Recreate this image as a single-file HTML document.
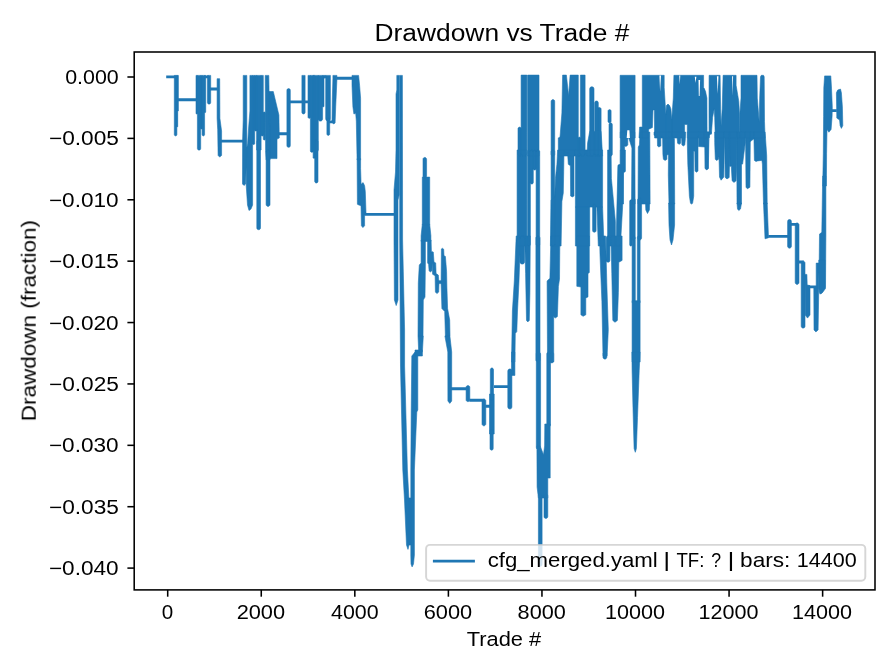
<!DOCTYPE html>
<html><head><meta charset="utf-8"><title>Drawdown vs Trade #</title>
<style>
html,body{margin:0;padding:0;background:#fff;}
body{width:896px;height:672px;overflow:hidden;position:relative;font-family:"Liberation Sans",sans-serif;}
svg text{font-family:"Liberation Sans",sans-serif;fill:#000;}
</style></head><body>
<svg width="896" height="672" viewBox="0 0 896 672" style="position:absolute;left:0;top:0">
<rect x="0" y="0" width="896" height="672" fill="#ffffff"/>
<defs><clipPath id="axclip"><rect x="134.2" y="52.0" width="740.8" height="537.9"/></clipPath></defs>
<g clip-path="url(#axclip)"><path d="M174.3,75.4L176.9,75.4L176.9,134.6L176.8,135.1L176.5,135.5L176.1,135.8L175.6,135.9L175.1,135.8L174.7,135.5L174.4,135.1L174.3,134.6Z M176.9,75.4L177.7,75.4L177.7,126.4L177.7,126.6L177.6,126.7L177.4,126.8L177.3,126.9L177.1,126.8L177.0,126.7L176.9,126.6L176.9,126.4Z M177.7,75.4L178.3,75.4L178.3,110.9L178.3,111.0L178.2,111.1L178.1,111.1L178.0,111.1L177.9,111.1L177.8,111.1L177.7,111.0L177.7,110.9Z M196.0,75.4L197.4,75.4L197.4,113.3L197.4,113.6L197.2,113.8L197.0,113.9L196.7,114.0L196.4,113.9L196.2,113.8L196.1,113.6L196.0,113.3Z M197.4,75.4L200.7,75.4L200.7,148.5L200.6,149.1L200.2,149.7L199.7,150.0L199.1,150.1L198.4,150.0L197.9,149.7L197.6,149.1L197.4,148.5Z M200.7,75.4L202.1,75.4L202.1,128.3L202.1,128.6L201.9,128.8L201.7,128.9L201.4,129.0L201.2,128.9L200.9,128.8L200.8,128.6L200.7,128.3Z M202.1,75.4L204.6,75.4L204.6,134.6L204.5,135.1L204.2,135.5L203.8,135.8L203.4,135.9L202.9,135.8L202.5,135.5L202.2,135.1L202.1,134.6Z M204.6,75.4L205.7,75.4L205.7,112.0L205.7,112.2L205.5,112.4L205.4,112.5L205.1,112.6L204.9,112.5L204.7,112.4L204.6,112.2L204.6,112.0Z M207.4,75.4L210.7,75.4L210.7,102.5L210.6,103.1L210.2,103.7L209.7,104.0L209.1,104.1L208.4,104.0L207.9,103.7L207.6,103.1L207.4,102.5Z M217.1,78.7L219.7,78.7L219.9,118.3L221.6,131.1L221.6,155.4L219.7,157.1L218.1,155.4L217.7,129.7L217.1,118.3Z M243.2,75.4L246.8,75.4L246.8,150.0L245.6,184.0L244.0,185.5L242.5,184.0L242.6,140.0L243.2,120.0Z M249.9,75.4L252.6,75.4L252.6,205.0L251.0,209.0L249.0,210.5L247.5,205.0L246.2,185.0L246.2,150.0L247.6,144.0L248.6,128.0L249.9,111.0Z M252.6,75.4L254.7,75.4L254.7,143.4L254.6,143.9L254.4,144.2L254.1,144.4L253.6,144.5L253.2,144.4L252.9,144.2L252.7,143.9L252.6,143.4Z M254.7,75.4L256.9,75.4L256.9,129.9L256.8,130.3L256.6,130.7L256.2,130.9L255.8,131.0L255.4,130.9L255.0,130.7L254.8,130.3L254.7,129.9Z M256.6,75.4L261.1,75.4L261.1,150.0L256.6,150.0Z M256.8,141.8L256.9,141.1L257.3,140.5L257.9,140.1L258.6,140.0L259.4,140.1L260.0,140.5L260.4,141.1L260.5,141.8L260.5,227.8L260.4,228.6L260.0,229.2L259.4,229.6L258.6,229.7L257.9,229.6L257.3,229.2L256.9,228.6L256.8,227.8Z M261.1,75.4L263.3,75.4L263.3,134.9L263.2,135.3L263.0,135.7L262.6,135.9L262.2,136.0L261.8,135.9L261.4,135.7L261.2,135.3L261.1,134.9Z M263.3,113.0L263.4,112.6L263.6,112.3L263.9,112.1L264.3,112.0L264.7,112.1L265.0,112.3L265.2,112.6L265.3,113.0L265.3,139.0L265.2,139.4L265.0,139.7L264.7,139.9L264.3,140.0L263.9,139.9L263.6,139.7L263.4,139.4L263.3,139.0Z M265.2,75.4L268.8,75.4L270.0,150.0L270.0,160.0L266.1,160.0L265.6,150.0Z M266.1,151.9L266.2,151.2L266.7,150.6L267.3,150.1L268.1,150.0L268.8,150.1L269.4,150.6L269.9,151.2L270.0,151.9L270.0,204.5L269.9,205.2L269.4,205.8L268.8,206.3L268.1,206.4L267.3,206.3L266.7,205.8L266.2,205.2L266.1,204.5Z M269.0,91.5L273.3,91.5L278.9,115.0L279.3,138.0L277.0,139.0L277.0,158.6L270.0,158.6Z M286.9,90.3L287.0,89.6L287.4,89.1L287.9,88.7L288.6,88.6L289.3,88.7L289.8,89.1L290.2,89.6L290.3,90.3L290.3,145.6L290.2,146.3L289.8,146.8L289.3,147.2L288.6,147.3L287.9,147.2L287.4,146.8L287.0,146.3L286.9,145.6Z M301.9,75.4L305.1,75.4L305.1,112.4L305.0,113.0L304.6,113.5L304.1,113.9L303.5,114.0L302.9,113.9L302.4,113.5L302.0,113.0L301.9,112.4Z M308.0,75.4L310.4,75.4L310.4,117.1L310.3,117.5L310.1,117.9L309.7,118.2L309.2,118.3L308.7,118.2L308.4,117.9L308.1,117.5L308.0,117.1Z M310.4,75.4L313.3,75.4L313.3,150.9L313.2,151.4L312.9,151.9L312.4,152.2L311.9,152.3L311.3,152.2L310.8,151.9L310.5,151.4L310.4,150.9Z M313.3,75.4L314.7,75.4L314.7,157.6L314.7,157.8L314.5,158.1L314.3,158.2L314.0,158.3L313.7,158.2L313.5,158.1L313.3,157.8L313.3,157.6Z M318.3,75.4L322.6,75.4L322.6,119.0L322.4,119.8L321.9,120.5L321.2,121.0L320.4,121.1L319.6,121.0L318.9,120.5L318.4,119.8L318.3,119.0Z M322.6,75.4L324.0,75.4L324.0,106.1L323.9,106.4L323.8,106.6L323.6,106.8L323.3,106.9L323.0,106.8L322.8,106.6L322.6,106.4L322.6,106.1Z M324.0,75.4L325.7,75.4L325.7,77.4L325.6,77.8L325.5,78.0L325.2,78.2L324.9,78.3L324.5,78.2L324.3,78.0L324.1,77.8L324.0,77.4Z M325.7,75.4L330.4,75.4L330.4,118.8L330.2,119.7L329.7,120.5L329.0,121.0L328.1,121.1L327.2,121.0L326.4,120.5L325.9,119.7L325.7,118.8Z M326.9,119.7L327.0,119.2L327.3,118.7L327.7,118.4L328.3,118.3L328.8,118.4L329.3,118.7L329.6,119.2L329.7,119.7L329.7,134.0L329.6,134.5L329.3,135.0L328.8,135.3L328.3,135.4L327.7,135.3L327.3,135.0L327.0,134.5L326.9,134.0Z M313.3,75.4L318.3,75.4L318.3,150.0L314.7,158.0L313.3,158.0Z M314.7,141.7L314.8,141.0L315.2,140.5L315.7,140.1L316.4,140.0L317.0,140.1L317.5,140.5L317.9,141.0L318.0,141.7L318.0,181.3L317.9,182.0L317.5,182.5L317.0,182.9L316.4,183.0L315.7,182.9L315.2,182.5L314.8,182.0L314.7,181.3Z M332.9,75.4L336.9,75.4L336.9,79.7L335.7,106.9L335.1,122.9L333.6,124.0L332.0,122.3L332.3,99.7L332.9,78.3Z M352.0,75.4L358.6,75.4L359.6,85.4L360.6,98.3L360.6,160.0L357.1,160.0L356.3,121.1L355.7,113.3L353.9,114.0L352.9,106.9L352.0,85.4Z M357.1,158.6L360.6,158.6L360.6,168.6L361.1,184.3L363.1,182.6L364.6,185.7L365.3,191.4L366.0,212.9L364.6,215.7L364.6,225.7L362.9,227.6L361.4,225.7L361.0,205.7L358.9,205.0L357.4,204.3Z M396.8,75.4L399.2,75.4L399.2,195.0L398.0,200.0L398.0,300.0L396.2,305.6L394.4,300.0L394.0,240.0L394.0,190.0L395.5,172.0L396.0,150.0L396.0,94.0L396.8,90.0Z M399.7,75.4L402.4,75.4L402.6,240.0L404.6,330.0L404.6,366.0L405.0,380.0L407.4,470.0L409.0,500.0L409.0,545.0L408.0,549.4L406.5,545.0L404.5,500.0L402.8,470.0L400.5,366.0L399.7,240.0Z M411.8,356.0L415.0,352.0L417.8,356.0L417.8,410.0L416.8,412.0L414.4,470.0L414.4,555.0L413.5,564.0L412.1,566.9L411.0,564.0L410.8,555.0L410.8,470.0L411.2,412.0Z M405.5,498.0L411.0,498.0L411.0,545.0L409.0,545.0L407.0,520.0Z M415.0,350.0L422.4,350.0L422.4,356.0L415.0,356.0Z M418.0,336.0L423.3,336.0L422.4,352.0L418.7,352.0Z M423.0,159.2L423.1,158.5L423.5,158.0L424.1,157.6L424.8,157.4L425.5,157.6L426.0,158.0L426.4,158.5L426.6,159.2L426.6,176.1L426.4,176.8L426.0,177.3L425.5,177.7L424.8,177.9L424.1,177.7L423.5,177.3L423.1,176.8L423.0,176.1Z M422.3,177.1L429.7,177.1L429.7,225.0L422.3,225.0Z M422.3,224.3L429.7,224.3L430.9,235.7L430.9,241.4L421.1,241.4L421.1,235.7Z M421.1,240.0L425.4,240.0L425.4,262.9L425.0,297.1L423.3,300.0L423.0,336.0L418.0,336.0L418.3,282.9L419.3,265.0L421.1,262.9Z M427.6,240.0L431.1,240.0L431.4,251.4L433.3,252.1L434.0,262.1L435.7,262.9L436.1,273.6L438.3,275.0L439.0,282.9L438.7,292.1L436.9,293.6L435.4,292.1L435.1,275.7L432.6,274.3L432.1,262.9L431.9,270.7L430.4,272.1L429.1,270.7L428.6,264.3L427.6,262.9Z M438.3,280.7L441.4,280.7L441.4,283.6L438.3,283.6Z M441.4,248.9L442.6,248.3L443.7,249.3L444.0,255.7L445.4,256.4L446.6,271.4L446.9,287.1L447.6,308.6L449.7,320.0L450.0,336.0L445.4,336.0L444.7,311.4L441.9,308.6L441.1,282.9Z M444.9,336.0L449.9,336.0L451.7,352.0L451.7,401.0L449.8,403.4L447.9,401.0L447.8,352.0Z M466.1,387.5L466.2,386.7L466.6,386.1L467.2,385.7L468.0,385.6L468.7,385.7L469.3,386.1L469.7,386.7L469.8,387.5L469.8,399.8L469.7,400.5L469.3,401.1L468.7,401.5L468.0,401.6L467.2,401.5L466.6,401.1L466.2,400.5L466.1,399.8Z M482.0,400.9L482.1,400.2L482.6,399.6L483.2,399.1L483.9,399.0L484.6,399.1L485.2,399.6L485.7,400.2L485.8,400.9L485.8,423.9L485.7,424.6L485.2,425.2L484.6,425.7L483.9,425.8L483.2,425.7L482.6,425.2L482.1,424.6L482.0,423.9Z M490.3,369.6L490.4,369.0L490.8,368.5L491.3,368.1L491.9,368.0L492.5,368.1L493.0,368.5L493.4,369.0L493.5,369.6L493.5,400.0L490.3,400.0Z M489.5,394.0L494.2,394.0L494.2,434.0L489.5,434.0Z M490.0,430.0L493.2,430.0L493.2,448.6L493.1,449.2L492.7,449.7L492.2,450.1L491.6,450.2L491.0,450.1L490.5,449.7L490.1,449.2L490.0,448.6Z M507.8,370.9L508.0,370.2L508.4,369.5L509.1,369.1L509.9,368.9L510.6,369.1L511.3,369.5L511.7,370.2L511.9,370.9L511.9,407.0L511.7,407.7L511.3,408.4L510.6,408.8L509.9,409.0L509.1,408.8L508.4,408.4L508.0,407.7L507.8,407.0Z M511.5,352.0L514.9,352.0L514.9,375.4L511.5,375.4Z M516.2,236.0L519.9,236.0L519.9,254.8L519.0,281.0L517.5,311.0L516.8,331.6L515.3,333.5L514.9,362.0L511.5,362.0L512.4,311.0L514.3,281.0Z M519.9,238.3L520.1,237.4L520.6,236.7L521.4,236.2L522.3,236.0L523.2,236.2L523.9,236.7L524.4,237.4L524.6,238.3L524.6,261.8L524.4,262.7L523.9,263.4L523.2,263.9L522.3,264.1L521.4,263.9L520.6,263.4L520.1,262.7L519.9,261.8Z M535.9,238.1L536.0,237.3L536.5,236.6L537.2,236.2L537.9,236.0L538.7,236.2L539.4,236.6L539.8,237.3L540.0,238.1L540.0,359.9L539.8,360.7L539.4,361.4L538.7,361.9L537.9,362.0L537.2,361.9L536.5,361.4L536.0,360.7L535.9,359.9Z M606.2,237.9L606.3,237.2L606.7,236.5L607.4,236.1L608.1,236.0L608.8,236.1L609.4,236.5L609.8,237.2L609.9,237.9L609.9,260.4L609.8,261.1L609.4,261.7L608.8,262.1L608.1,262.3L607.4,262.1L606.7,261.7L606.3,261.1L606.2,260.4Z M632.1,237.6L632.2,237.0L632.5,236.5L633.1,236.1L633.7,236.0L634.3,236.1L634.8,236.5L635.1,237.0L635.3,237.6L635.3,301.9L635.1,302.5L634.8,303.0L634.3,303.4L633.7,303.5L633.1,303.4L632.5,303.0L632.2,302.5L632.1,301.9Z M637.3,237.4L637.4,236.9L637.7,236.4L638.2,236.1L638.7,236.0L639.3,236.1L639.7,236.4L640.0,236.9L640.1,237.4L640.1,302.1L640.0,302.6L639.7,303.1L639.3,303.4L638.7,303.5L638.2,303.4L637.7,303.1L637.4,302.6L637.3,302.1Z M632.1,300.7L640.1,300.7L640.1,362.0L632.1,362.0Z M524.6,236.0L530.3,236.0L529.9,292.3L529.3,320.4L527.8,321.9L526.5,320.4L525.6,273.5Z M550.9,236.0L559.9,236.0L559.5,279.1L558.4,286.6L557.4,316.6L555.2,318.1L553.7,316.6L553.7,362.0L547.5,362.0L547.1,281.0L549.9,278.2Z M576.8,236.0L589.3,236.0L589.3,272.6L588.0,273.5L588.0,296.9L585.8,297.9L585.8,314.8L583.1,316.3L580.9,314.8L580.9,287.0L576.8,286.3Z M599.6,236.0L605.6,236.0L606.8,282.9L608.3,329.8L607.1,356.0L604.9,358.3L603.0,356.0L601.9,301.6L600.0,254.8Z M610.9,236.0L622.1,236.0L622.1,260.4L618.8,262.3L618.4,292.3L617.4,320.4L615.0,322.3L612.8,320.4L611.8,273.5Z M536.3,354.2L536.4,353.3L536.9,352.6L537.6,352.2L538.4,352.0L539.2,352.2L539.9,352.6L540.4,353.3L540.6,354.2L540.6,447.3L540.4,448.2L539.9,448.9L539.2,449.3L538.4,449.5L537.6,449.3L536.9,448.9L536.4,448.2L536.3,447.3Z M546.8,353.9L546.9,353.2L547.3,352.5L547.9,352.1L548.6,352.0L549.3,352.1L550.0,352.5L550.4,353.2L550.5,353.9L550.5,425.1L550.4,425.8L550.0,426.5L549.3,426.9L548.6,427.0L547.9,426.9L547.3,426.5L546.9,425.8L546.8,425.1Z M549.9,353.9L550.1,353.2L550.5,352.5L551.1,352.1L551.8,352.0L552.5,352.1L553.1,352.5L553.5,353.2L553.7,353.9L553.7,361.0L553.5,361.7L553.1,362.3L552.5,362.7L551.8,362.9L551.1,362.7L550.5,362.3L550.1,361.7L549.9,361.0Z M603.0,353.9L603.1,353.2L603.6,352.5L604.2,352.1L604.9,352.0L605.6,352.1L606.2,352.5L606.6,353.2L606.8,353.9L606.8,357.3L606.6,358.0L606.2,358.6L605.6,359.0L604.9,359.1L604.2,359.0L603.6,358.6L603.1,358.0L603.0,357.3Z M631.9,352.0L640.1,352.0L639.2,370.8L637.5,417.6L636.4,448.6L635.3,452.3L634.1,448.6L633.0,408.3L632.1,370.8Z M544.8,424.0L550.2,424.0L550.2,478.0L547.8,478.0L547.8,498.0L538.4,498.0L537.1,487.0L536.9,446.0L540.2,446.0L543.5,454.7L544.6,446.0Z M538.4,495.9L538.5,495.1L538.9,494.5L539.5,494.1L540.2,494.0L541.0,494.1L541.6,494.5L542.0,495.1L542.1,495.9L542.1,564.4L542.0,565.2L541.6,565.8L541.0,566.2L540.2,566.3L539.5,566.2L538.9,565.8L538.5,565.2L538.4,564.4Z M544.0,495.9L544.1,495.2L544.5,494.5L545.2,494.1L545.9,494.0L546.6,494.1L547.2,494.5L547.6,495.2L547.8,495.9L547.8,516.5L547.6,517.2L547.2,517.9L546.6,518.3L545.9,518.4L545.2,518.3L544.5,517.9L544.1,517.2L544.0,516.5Z M518.0,128.7L518.1,128.1L518.5,127.6L519.0,127.3L519.6,127.1L520.2,127.3L520.7,127.6L521.0,128.1L521.1,128.7L521.1,154.4L521.0,155.0L520.7,155.5L520.2,155.9L519.6,156.0L519.0,155.9L518.5,155.5L518.1,155.0L518.0,154.4Z M521.1,75.1L526.9,75.1L526.9,153.1L526.6,154.2L526.0,155.2L525.1,155.8L524.0,156.0L522.9,155.8L522.0,155.2L521.4,154.2L521.1,153.1Z M527.6,75.1L539.0,75.1L539.0,156.0L527.6,156.0Z M551.1,101.4L551.3,100.7L551.7,100.1L552.2,99.7L552.9,99.6L553.6,99.7L554.2,100.1L554.6,100.7L554.7,101.4L554.7,154.2L554.6,154.9L554.2,155.5L553.6,155.9L552.9,156.0L552.2,155.9L551.7,155.5L551.3,154.9L551.1,154.2Z M578.3,138.2L578.4,137.8L578.6,137.5L578.9,137.2L579.4,137.1L579.8,137.2L580.1,137.5L580.3,137.8L580.4,138.2L580.4,154.9L580.3,155.3L580.1,155.7L579.8,155.9L579.4,156.0L578.9,155.9L578.6,155.7L578.4,155.3L578.3,154.9Z M580.4,75.1L585.1,75.1L585.1,153.6L585.0,154.5L584.5,155.3L583.7,155.8L582.8,156.0L581.9,155.8L581.1,155.3L580.6,154.5L580.4,153.6Z M589.7,88.9L589.9,88.0L590.3,87.3L591.0,86.9L591.9,86.7L592.7,86.9L593.4,87.3L593.8,88.0L594.0,88.9L594.0,153.9L593.8,154.7L593.4,155.4L592.7,155.8L591.9,156.0L591.0,155.8L590.3,155.4L589.9,154.7L589.7,153.9Z M594.7,102.8L594.9,102.1L595.2,101.5L595.8,101.1L596.5,101.0L597.2,101.1L597.8,101.5L598.1,102.1L598.3,102.8L598.3,154.2L598.1,154.9L597.8,155.5L597.2,155.9L596.5,156.0L595.8,155.9L595.2,155.5L594.9,154.9L594.7,154.2Z M597.6,109.2L597.7,108.5L598.1,108.0L598.7,107.6L599.4,107.4L600.0,107.6L600.6,108.0L601.0,108.5L601.1,109.2L601.1,154.2L601.0,154.9L600.6,155.5L600.0,155.9L599.4,156.0L598.7,155.9L598.1,155.5L597.7,154.9L597.6,154.2Z M608.0,111.1L608.1,110.5L608.5,110.0L609.0,109.7L609.6,109.6L610.2,109.7L610.7,110.0L611.0,110.5L611.1,111.1L611.1,121.3L611.0,121.9L610.7,122.4L610.2,122.7L609.6,122.9L609.0,122.7L608.5,122.4L608.1,121.9L608.0,121.3Z M609.0,124.5L609.1,123.9L609.5,123.3L610.0,123.0L610.6,122.9L611.3,123.0L611.8,123.3L612.2,123.9L612.3,124.5L612.3,154.4L612.2,155.0L611.8,155.5L611.3,155.9L610.6,156.0L610.0,155.9L609.5,155.5L609.1,155.0L609.0,154.4Z M562.6,75.1L566.4,75.1L568.6,95.7L570.1,75.1L578.3,75.1L578.3,156.0L558.3,156.0L558.3,137.9L560.0,137.1L561.9,112.9Z M589.7,131.4L601.1,131.4L602.6,156.0L586.9,156.0L587.6,142.9Z M517.1,150.0L526.9,150.0L526.9,246.0L517.1,246.0Z M527.6,151.4L527.7,150.9L528.0,150.4L528.5,150.1L529.0,150.0L529.5,150.1L530.0,150.4L530.3,150.9L530.4,151.4L530.4,244.6L530.3,245.1L530.0,245.6L529.5,245.9L529.0,246.0L528.5,245.9L528.0,245.6L527.7,245.1L527.6,244.6Z M530.4,151.4L530.5,150.9L530.8,150.4L531.3,150.1L531.9,150.0L532.4,150.1L532.9,150.4L533.2,150.9L533.3,151.4L533.3,182.6L533.2,183.1L532.9,183.6L532.4,183.9L531.9,184.0L531.3,183.9L530.8,183.6L530.5,183.1L530.4,182.6Z M533.3,151.4L533.4,150.9L533.7,150.4L534.2,150.1L534.7,150.0L535.3,150.1L535.7,150.4L536.0,150.9L536.1,151.4L536.1,168.6L536.0,169.1L535.7,169.6L535.3,169.9L534.7,170.0L534.2,169.9L533.7,169.6L533.4,169.1L533.3,168.6Z M536.1,151.8L536.3,151.1L536.7,150.5L537.2,150.1L537.9,150.0L538.6,150.1L539.2,150.5L539.6,151.1L539.7,151.8L539.7,244.2L539.6,244.9L539.2,245.5L538.6,245.9L537.9,246.0L537.2,245.9L536.7,245.5L536.3,244.9L536.1,244.2Z M551.1,151.8L551.3,151.1L551.7,150.5L552.2,150.1L552.9,150.0L553.6,150.1L554.2,150.5L554.6,151.1L554.7,151.8L554.7,244.2L554.6,244.9L554.2,245.5L553.6,245.9L552.9,246.0L552.2,245.9L551.7,245.5L551.3,244.9L551.1,244.2Z M575.4,150.0L602.6,150.0L602.6,207.1L575.4,207.1Z M575.4,207.1L589.7,207.1L589.7,246.0L575.4,246.0Z M592.6,206.1L592.7,205.4L593.1,204.8L593.7,204.4L594.4,204.3L595.0,204.4L595.6,204.8L596.0,205.4L596.1,206.1L596.1,230.5L596.0,231.2L595.6,231.8L595.0,232.1L594.4,232.3L593.7,232.1L593.1,231.8L592.7,231.2L592.6,230.5Z M629.7,201.1L629.8,200.7L630.0,200.3L630.4,200.1L630.9,200.0L631.3,200.1L631.7,200.3L631.9,200.7L632.0,201.1L632.0,244.9L631.9,245.3L631.7,245.7L631.3,245.9L630.9,246.0L630.4,245.9L630.0,245.7L629.8,245.3L629.7,244.9Z M557.6,150.0L564.0,150.0L563.7,171.4L563.3,192.9L561.9,201.4L561.1,246.0L550.4,246.0L551.1,200.0L554.7,197.1L555.4,178.6L556.9,164.3Z M564.0,150.0L575.4,150.0L575.4,154.3L574.0,155.7L574.0,196.0L572.3,196.9L570.6,196.0L570.4,165.7L568.3,164.3L567.6,152.9L564.0,152.1Z M596.9,207.1L602.6,207.1L604.0,246.0L598.3,246.0Z M607.6,150.0L611.1,150.0L611.4,178.6L615.4,221.4L615.4,246.0L607.6,246.0Z M620.3,150.0L625.4,150.0L625.4,171.4L623.3,172.9L622.6,207.1L620.4,246.0L616.1,246.0L616.9,207.1L618.0,165.0L620.3,164.3Z M620.1,75.3L635.1,75.3L635.1,138.0L620.1,138.0Z M620.3,132.0L627.8,132.0L627.8,144.9L626.2,146.5L624.6,145.9L624.4,170.6L623.5,171.6L623.5,204.0L618.1,204.0L618.1,166.3L620.3,164.7Z M628.6,132.0L634.8,132.0L635.1,204.0L631.5,204.0L631.9,148.1L628.9,138.4Z M631.4,199.9L631.5,199.2L632.0,198.6L632.6,198.1L633.3,198.0L634.0,198.1L634.6,198.6L635.1,199.2L635.2,199.9L635.2,238.1L635.1,238.8L634.6,239.4L634.0,239.9L633.3,240.0L632.6,239.9L632.0,239.4L631.5,238.8L631.4,238.1Z M637.6,200.0L637.8,199.2L638.2,198.6L638.8,198.2L639.6,198.0L640.4,198.2L641.0,198.6L641.4,199.2L641.6,200.0L641.6,238.0L641.4,238.8L641.0,239.4L640.4,239.8L639.6,240.0L638.8,239.8L638.2,239.4L637.8,238.8L637.6,238.0Z M639.6,127.1L642.3,127.1L642.3,138.0L639.0,138.0Z M642.3,75.3L664.2,75.3L664.2,87.4L665.8,114.2L665.8,138.0L654.6,138.0L654.4,109.9L653.0,109.9L652.4,127.6L648.7,129.2L648.1,138.0L642.3,138.0Z M640.1,132.0L649.8,132.0L650.1,204.0L638.0,204.0L638.3,147.0L639.4,144.9Z M645.5,203.0L649.6,203.0L649.4,210.0L647.5,213.5L645.8,210.0Z M654.0,132.0L671.7,132.0L671.7,136.3L668.5,136.8L668.5,154.5L666.9,155.0L666.9,159.3L665.1,160.4L663.4,159.3L662.9,154.5L662.6,136.8L660.8,136.3L660.8,145.9L658.9,147.0L657.5,145.9L657.3,136.3L654.0,135.2Z M668.0,104.0L669.6,105.6L670.9,108.9L671.7,119.6L671.7,138.0L665.8,138.0L665.8,114.2L666.4,105.6Z M668.5,132.0L672.3,132.0L672.6,137.4L674.4,138.4L674.7,204.0L669.0,204.0L668.3,174.9L668.5,154.5Z M668.6,203.0L674.6,203.0L674.6,225.0L673.0,240.0L671.5,245.0L670.0,240.0L669.0,225.0Z M673.9,75.3L703.6,75.3L703.6,87.4L705.5,91.2L706.9,98.1L707.1,138.0L687.3,138.0L687.3,124.4L684.6,124.4L684.6,138.0L671.7,138.0L671.7,119.6L673.3,98.1Z M672.3,132.0L685.6,132.0L685.4,138.4L684.8,144.9L683.5,145.9L681.9,144.9L681.6,137.4L680.8,137.4L680.6,143.3L679.2,144.3L677.6,143.3L677.1,137.4L672.3,136.3Z M687.3,132.0L698.5,132.0L698.5,135.2L698.0,136.3L698.0,171.1L696.4,172.2L695.1,171.1L694.8,151.3L693.7,151.3L693.7,196.3L692.6,203.3L691.5,204.0L690.5,203.3L689.4,196.3L687.8,164.1L687.3,142.7Z M698.5,132.0L709.2,132.0L708.4,147.0L708.4,168.4L706.5,169.7L705.1,168.4L704.9,147.0L698.5,146.5Z M704.0,88.5L706.1,98.1L706.4,138.0L704.0,138.0Z M709.1,75.3L720.1,75.3L720.6,108.9L721.1,126.0L722.2,108.9L723.1,75.3L736.1,75.3L736.1,85.3L738.8,101.4L739.4,113.1L739.9,138.0L715.3,138.0L714.7,117.4L714.2,108.9L712.6,117.4L711.5,132.4L709.4,134.6L709.1,138.0L709.0,108.9Z M741.0,75.3L757.0,75.3L757.3,98.1L759.2,121.7L759.7,98.1L760.5,76.7L761.3,75.3L763.5,75.3L764.2,76.7L764.5,121.7L765.1,138.0L739.9,138.0L739.9,113.1L741.0,98.1Z M704.0,132.0L711.5,132.0L711.5,134.1L708.8,134.7L708.8,145.9L708.3,168.4L706.7,170.0L705.3,168.4L705.1,145.9L704.0,145.9Z M714.7,132.0L724.4,132.0L724.4,145.9L723.8,177.0L721.1,180.2L719.5,177.0L719.0,156.6L718.5,159.3L716.6,160.4L715.3,159.3L714.7,142.7Z M724.4,132.0L729.7,132.0L729.5,164.1L729.2,177.5L727.0,178.9L725.2,177.5L724.9,153.4Z M729.2,132.0L736.7,132.0L736.7,166.3L736.1,180.8L734.0,182.4L732.1,180.8L731.3,166.3L729.7,166.3Z M736.7,132.0L741.5,132.0L741.5,204.0L737.0,204.0Z M737.0,203.0L741.5,203.0L740.5,209.0L738.8,210.5L737.5,209.0Z M741.5,132.0L745.3,132.0L745.3,142.7L742.6,164.1L741.5,164.1Z M745.3,132.0L750.3,132.0L750.3,141.6L749.9,187.2L747.4,188.8L746.0,187.2L745.6,141.6Z M750.3,132.0L754.4,132.0L754.4,138.4L750.3,141.6Z M753.8,132.0L765.1,132.0L766.7,155.6L767.2,204.0L763.5,204.0L762.4,164.1L761.9,160.4L757.6,160.9L756.0,161.5L754.4,160.4Z M763.5,203.0L767.2,203.0L768.5,237.8L765.0,238.8Z M787.6,221.4L787.7,220.7L788.2,220.1L788.8,219.6L789.5,219.5L790.2,219.6L790.8,220.1L791.3,220.7L791.4,221.4L791.4,246.3L791.3,247.0L790.8,247.6L790.2,248.1L789.5,248.2L788.8,248.1L788.2,247.6L787.7,247.0L787.6,246.3Z M795.2,224.9L795.3,224.2L795.8,223.6L796.4,223.1L797.1,223.0L797.8,223.1L798.4,223.6L798.9,224.2L799.0,224.9L799.0,282.5L798.9,283.2L798.4,283.8L797.8,284.3L797.1,284.4L796.4,284.3L795.8,283.8L795.3,283.2L795.2,282.5Z M801.2,263.1L801.4,262.4L801.8,261.8L802.4,261.4L803.1,261.2L803.8,261.4L804.5,261.8L804.9,262.4L805.0,263.1L805.0,326.2L804.9,327.0L804.5,327.6L803.8,328.0L803.1,328.1L802.4,328.0L801.8,327.6L801.4,327.0L801.2,326.2Z M803.8,274.4L806.9,274.4L807.2,285.0L810.0,285.6L810.0,315.0L807.5,318.1L805.2,315.0L805.0,274.4Z M816.2,263.1L818.8,263.1L818.8,286.9L818.1,330.0L815.9,331.9L814.0,330.0L813.8,286.9L816.2,286.9Z M818.8,260.0L825.0,260.0L825.0,287.5L823.1,289.4L822.5,292.5L820.9,293.8L819.4,291.9L818.8,272.5Z M822.7,176.0L825.9,176.0L825.9,234.1L825.5,288.5L822.7,292.3L819.9,294.1L818.9,288.5L819.5,234.1L821.8,232.3Z M824.6,75.9L830.8,75.9L831.5,88.1L832.3,106.9L832.1,116.3L831.1,129.4L828.9,132.2L827.0,129.4L826.6,153.8L826.4,186.0L822.7,186.0L823.3,153.8L823.6,116.3L823.8,88.1Z M836.4,92.8L837.7,90.0L840.5,89.1L841.4,92.8L842.4,106.9L842.8,125.6L841.4,128.4L840.1,125.6L839.6,120.0L836.8,118.1Z" fill="#1f77b4" stroke="#1f77b4" stroke-width="0.6" stroke-linejoin="round" fill-rule="nonzero"/><path d="M626.7,138.0L627.3,130.3L629.4,130.3L629.9,138.0Z M659.4,75.6L661.0,75.6L660.1,91.7Z M679.2,75.6L680.3,75.6L679.8,84.2Z M694.8,76.7L696.4,76.7L695.5,83.1Z M698.5,79.9L700.1,79.9L699.6,96.0L698.8,96.0Z M716.9,76.2L718.5,76.2L717.7,93.9Z M732.1,76.2L733.1,76.2L732.6,96.0Z" fill="#ffffff" stroke="none"/><path d="M166.2,76.9L176.6,76.9 M177.5,99.7L196.6,99.7 M204.5,76.9L209.0,76.9 M210.0,89.0L217.6,89.0 M221.0,141.1L243.6,141.1 M278.5,133.7L287.6,133.7 M290.0,101.9L308.5,101.9 M329.0,121.9L334.5,121.9 M336.5,78.3L352.4,78.3 M364.5,214.4L394.4,214.4 M451.0,388.8L466.8,388.8 M469.3,400.2L483.4,400.2 M485.3,406.2L490.9,406.2 M494.0,386.6L508.7,386.6 M768.3,236.4L788.4,236.4 M790.8,224.4L797.0,224.4 M797.5,262.0L803.8,262.0 M808.0,286.9L817.5,286.9 M832.0,110.6L836.8,110.6" fill="none" stroke="#1f77b4" stroke-width="2.917" stroke-linejoin="round" stroke-linecap="butt"/></g>
<line x1="167.70" y1="589.9" x2="167.70" y2="596.70" stroke="#000" stroke-width="1.556"/>
<line x1="261.26" y1="589.9" x2="261.26" y2="596.70" stroke="#000" stroke-width="1.556"/>
<line x1="354.82" y1="589.9" x2="354.82" y2="596.70" stroke="#000" stroke-width="1.556"/>
<line x1="448.39" y1="589.9" x2="448.39" y2="596.70" stroke="#000" stroke-width="1.556"/>
<line x1="541.95" y1="589.9" x2="541.95" y2="596.70" stroke="#000" stroke-width="1.556"/>
<line x1="635.51" y1="589.9" x2="635.51" y2="596.70" stroke="#000" stroke-width="1.556"/>
<line x1="729.07" y1="589.9" x2="729.07" y2="596.70" stroke="#000" stroke-width="1.556"/>
<line x1="822.63" y1="589.9" x2="822.63" y2="596.70" stroke="#000" stroke-width="1.556"/>
<line x1="127.40" y1="77.00" x2="134.2" y2="77.00" stroke="#000" stroke-width="1.556"/>
<line x1="127.40" y1="138.39" x2="134.2" y2="138.39" stroke="#000" stroke-width="1.556"/>
<line x1="127.40" y1="199.78" x2="134.2" y2="199.78" stroke="#000" stroke-width="1.556"/>
<line x1="127.40" y1="261.16" x2="134.2" y2="261.16" stroke="#000" stroke-width="1.556"/>
<line x1="127.40" y1="322.55" x2="134.2" y2="322.55" stroke="#000" stroke-width="1.556"/>
<line x1="127.40" y1="383.94" x2="134.2" y2="383.94" stroke="#000" stroke-width="1.556"/>
<line x1="127.40" y1="445.33" x2="134.2" y2="445.33" stroke="#000" stroke-width="1.556"/>
<line x1="127.40" y1="506.71" x2="134.2" y2="506.71" stroke="#000" stroke-width="1.556"/>
<line x1="127.40" y1="568.10" x2="134.2" y2="568.10" stroke="#000" stroke-width="1.556"/>
<rect x="134.2" y="52.0" width="740.8" height="537.9" fill="none" stroke="#000" stroke-width="1.556"/>
<g opacity="0.999">
<text transform="translate(161.788,619.000) scale(1.0154,0.9780)" x="0" y="0" font-size="20.3">0</text>
<text transform="translate(236.638,619.000) scale(1.0736,0.9780)" x="0" y="0" font-size="20.3">2000</text>
<text transform="translate(331.010,619.000) scale(1.0554,0.9780)" x="0" y="0" font-size="20.3">4000</text>
<text transform="translate(423.762,619.000) scale(1.0736,0.9780)" x="0" y="0" font-size="20.3">6000</text>
<text transform="translate(517.597,619.000) scale(1.0674,0.9780)" x="0" y="0" font-size="20.3">8000</text>
<text transform="translate(604.915,619.000) scale(1.0636,0.9780)" x="0" y="0" font-size="20.3">10000</text>
<text transform="translate(698.477,619.000) scale(1.0636,0.9780)" x="0" y="0" font-size="20.3">12000</text>
<text transform="translate(792.039,619.000) scale(1.0636,0.9780)" x="0" y="0" font-size="20.3">14000</text>
<text transform="translate(65.209,84.100) scale(1.0548,0.9780)" x="0" y="0" font-size="20.3">0.000</text>
<text transform="translate(48.881,145.487) scale(1.1185,0.9780)" x="0" y="0" font-size="20.3">−0.005</text>
<text transform="translate(48.886,206.875) scale(1.1139,0.9780)" x="0" y="0" font-size="20.3">−0.010</text>
<text transform="translate(48.881,268.263) scale(1.1185,0.9780)" x="0" y="0" font-size="20.3">−0.015</text>
<text transform="translate(48.886,329.650) scale(1.1139,0.9780)" x="0" y="0" font-size="20.3">−0.020</text>
<text transform="translate(48.881,391.038) scale(1.1185,0.9780)" x="0" y="0" font-size="20.3">−0.025</text>
<text transform="translate(48.886,452.425) scale(1.1139,0.9780)" x="0" y="0" font-size="20.3">−0.030</text>
<text transform="translate(48.881,513.812) scale(1.1185,0.9780)" x="0" y="0" font-size="20.3">−0.035</text>
<text transform="translate(48.886,575.200) scale(1.1139,0.9780)" x="0" y="0" font-size="20.3">−0.040</text>
<text transform="translate(374.538,41.200) scale(1.0811,1.0000)" x="0" y="0" font-size="24.4">Drawdown vs Trade #</text>
<text transform="translate(466.731,645.500) scale(1.0761,1.0000)" x="0" y="0" font-size="20.3">Trade #</text>
<text transform="translate(35.700,421.263) rotate(-90) scale(1.1088,1.0000)" x="0" y="0" font-size="20.3">Drawdown (fraction)</text>
<rect x="426.1" y="544.9" width="439.2" height="35.8" rx="3.9" ry="3.9" fill="#ffffff" fill-opacity="0.8" stroke="#cccccc" stroke-opacity="0.8" stroke-width="1.94"/>
<line x1="432.9" y1="561.1" x2="474.9" y2="561.1" stroke="#1f77b4" stroke-width="2.917"/>
<text transform="translate(487.680,567.300) scale(1.0932,1.0000)" x="0" y="0" font-size="20.3">cfg_merged.yaml</text>
<text transform="translate(663.200,567.300) scale(1.3143,1.0000)" x="0" y="0" font-size="20.3">|</text>
<text transform="translate(676.470,567.300) scale(0.9193,1.0000)" x="0" y="0" font-size="20.3">TF:</text>
<text transform="translate(711.146,567.300) scale(0.8718,1.0000)" x="0" y="0" font-size="20.3">?</text>
<text transform="translate(727.500,567.300) scale(1.3143,1.0000)" x="0" y="0" font-size="20.3">|</text>
<text transform="translate(740.107,567.300) scale(1.1143,1.0000)" x="0" y="0" font-size="20.3">bars:</text>
<text transform="translate(796.807,567.300) scale(1.0618,0.9780)" x="0" y="0" font-size="20.3">14400</text>
</g>
</svg>
</body></html>
